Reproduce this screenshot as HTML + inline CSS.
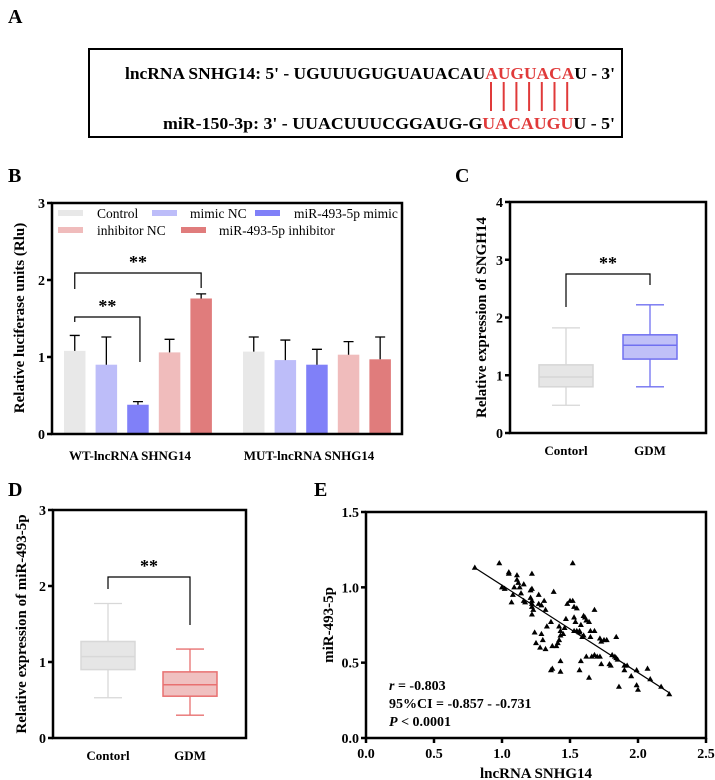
<!DOCTYPE html>
<html><head><meta charset="utf-8"><style>
html,body{margin:0;padding:0;background:#fff}
svg{display:block;font-family:"Liberation Serif",serif;font-weight:bold}
.ax{stroke:#000;stroke-width:2.5;fill:none}
.tk{font-size:14px}
</style></head><body>
<svg id="fig" width="715" height="780" viewBox="0 0 715 780">
<g>
<text x="8" y="23" font-size="20">A</text>
<rect x="89" y="49" width="533" height="88" fill="none" stroke="#000" stroke-width="2"/>
<text x="615" y="79" text-anchor="end" font-size="17" textLength="490" lengthAdjust="spacingAndGlyphs">lncRNA SNHG14: 5' - UGUUUGUGUAUACAU<tspan fill="#e03a3a">AUGUACA</tspan>U - 3'</text>
<text x="615" y="129" text-anchor="end" font-size="17" textLength="452" lengthAdjust="spacingAndGlyphs">miR-150-3p: 3' - UUACUUUCGGAUG-G<tspan fill="#e03a3a">UACAUGU</tspan>U - 5'</text>
<g id="pairs" stroke="#e03a3a" stroke-width="2"></g>
</g>
<g id="pB"></g>
<g id="pC"></g>
<g id="pD"></g>
<g id="pE"></g>
</svg>
<script>
// ---- Panel B data ----
const bGroups = ["WT-lncRNA SHNG14", "MUT-lncRNA SNHG14"];
const bSeries = ["Control", "mimic NC", "miR-493-5p mimic", "inhibitor NC", "miR-493-5p inhibitor"];
const bWT = [1.08, 0.90, 0.38, 1.06, 1.76];
const bWTerr = [0.20, 0.36, 0.04, 0.17, 0.06];
const bMUT = [1.07, 0.96, 0.90, 1.03, 0.97];
const bMUTerr = [0.19, 0.26, 0.20, 0.17, 0.29];
const bTicks = [0, 1, 2, 3];
// ---- Panel C data (box: min, q1, median, q3, max) ----
const cGroups = ["Contorl", "GDM"];
const cBoxes = [[0.48, 0.80, 0.97, 1.18, 1.82], [0.80, 1.28, 1.52, 1.70, 2.22]];
const cTicks = [0, 1, 2, 3, 4];
// ---- Panel D data ----
const dGroups = ["Contorl", "GDM"];
const dBoxes = [[0.53, 0.90, 1.07, 1.27, 1.77], [0.30, 0.55, 0.70, 0.87, 1.17]];
const dTicks = [0, 1, 2, 3];
// ---- Panel E data ----
const eX = [0.80,0.98,1.52,1.05,1.05,1.22,1.00,1.02,1.11,1.11,1.12,1.13,1.16,1.09,1.08,1.07,1.14,1.21,1.22,1.21,1.16,1.17,1.22,1.22,1.22,1.23,1.22,1.27,1.27,1.29,1.31,1.32,1.38,1.24,1.29,1.25,1.28,1.30,1.32,1.33,1.36,1.37,1.40,1.41,1.42,1.43,1.43,1.43,1.37,1.36,1.43,1.48,1.50,1.52,1.53,1.55,1.47,1.53,1.54,1.55,1.57,1.58,1.60,1.61,1.62,1.59,1.60,1.64,1.65,1.65,1.68,1.68,1.62,1.66,1.58,1.57,1.64,1.68,1.70,1.72,1.73,1.72,1.73,1.75,1.77,1.84,1.81,1.83,1.84,1.85,1.79,1.80,1.86,1.90,1.92,1.90,1.95,1.99,1.99,2.00,2.07,2.09,2.17,2.23,1.57,1.53,1.46,1.45,1.42];
const eY = [1.13,1.16,1.16,1.10,1.09,1.09,1.00,0.99,1.08,1.05,1.03,1.00,1.02,1.00,0.95,0.90,0.96,0.98,0.99,0.93,0.91,0.90,0.91,0.89,0.87,0.85,0.82,0.95,0.89,0.88,0.91,0.85,0.97,0.70,0.69,0.63,0.60,0.65,0.59,0.74,0.77,0.61,0.61,0.63,0.65,0.71,0.68,0.51,0.46,0.45,0.44,0.89,0.91,0.91,0.87,0.86,0.79,0.80,0.77,0.71,0.70,0.75,0.81,0.80,0.78,0.67,0.68,0.77,0.71,0.67,0.85,0.71,0.54,0.54,0.51,0.45,0.40,0.55,0.54,0.54,0.49,0.66,0.64,0.65,0.65,0.67,0.55,0.54,0.53,0.52,0.49,0.48,0.34,0.48,0.48,0.45,0.41,0.45,0.35,0.32,0.46,0.39,0.34,0.29,0.71,0.71,0.73,0.69,0.74];
const eFit = [[0.80, 1.13], [2.23, 0.30]];
const eXTicks = [0, 0.5, 1.0, 1.5, 2.0, 2.5];
const eYTicks = [0, 0.5, 1.0, 1.5];

const NS = "http://www.w3.org/2000/svg";
function mk(parent, tag, attrs, text) {
  const e = document.createElementNS(NS, tag);
  for (const k in attrs) e.setAttribute(k, attrs[k]);
  if (text !== undefined) e.textContent = text;
  parent.appendChild(e);
  return e;
}

const pairs = document.getElementById('pairs');
for (let i = 0; i < 7; i++) {
  const l = mk(pairs, 'line', {x1: 491 + i * 12.7, x2: 491 + i * 12.7, y1: 82, y2: 111});
  
  
}

function yAxis(g, x, yFn, ticks, fmt, name) {
  ticks.forEach(t => {
    const y = yFn(t);
    const tl = mk(g, 'line', {x1: x - 5, x2: x, y1: y, y2: y, stroke: '#000', 'stroke-width': 2.5});
    
    
    const tx = mk(g, 'text', {x: x - 7, y: y + 5, 'text-anchor': 'end', class: 'tk'}, fmt(t));
    
    
  });
}
function bracket(g, x1, y1, x2, y2, top, name) {
  const p = mk(g, 'path', {d: `M${x1},${y1}V${top}H${x2}V${y2}`, fill: 'none', stroke: '#000', 'stroke-width': 1.2});
  
  
  const s = mk(g, 'text', {x: (x1 + x2) / 2, y: top - 5, 'text-anchor': 'middle', 'font-size': 18}, '**');
  
  
}

// ---- Panel B ----
(function () {
  const g = document.getElementById('pB');
  const L = 52, R = 402, T = 203, B = 434;
  const y = v => B - v * (B - T) / 3;
  const colors = ['#e8e8e8', '#bdbdf9', '#8080f8', '#f0bcbc', '#e07c7c'];
  let t = mk(g, 'text', {x: 8, y: 182, 'font-size': 20}, 'B');
   
  const groupStart = [64, 243];
  [bWT, bMUT].forEach((vals, gi) => {
    const errs = gi === 0 ? bWTerr : bMUTerr;
    vals.forEach((v, i) => {
      const x = groupStart[gi] + i * 31.6, w = 21.5;
      const r = mk(g, 'rect', {x: x, y: y(v), width: w, height: B - y(v), fill: colors[i]});
      
      
      const cx = x + w / 2, ye = y(v + errs[i]);
      const e = mk(g, 'path', {d: `M${cx},${y(v)}V${ye}M${cx - 5},${ye}H${cx + 5}`, stroke: '#000', 'stroke-width': 1.3, fill: 'none'});
      
      
    });
    const gl = mk(g, 'text', {x: groupStart[gi] + 66, y: 460, 'text-anchor': 'middle', 'font-size': 13}, bGroups[gi]);
    
    
  });
  const fr = mk(g, 'path', {d: `M${L},${T}H${R}V${B}H${L}Z`, class: 'ax', 'stroke-width': 3});
   
  yAxis(g, L, y, bTicks, v => String(v), 'y-axis');
  const yl = mk(g, 'text', {x: 0, y: 0, transform: 'translate(24,318) rotate(-90)', 'text-anchor': 'middle', 'font-size': 15}, 'Relative luciferase units (Rlu)');
   
  const leg = [[58, 213, 97], [152, 213, 190], [255, 213, 294], [58, 230, 97], [181, 230, 219]];
  leg.forEach((p, i) => {
    const s = mk(g, 'rect', {x: p[0], y: p[1] - 3, width: 25, height: 6, fill: colors[i]});
     
    const tx = mk(g, 'text', {x: p[2], y: p[1] + 5, 'font-size': 13.5, 'font-weight': 'normal'}, bSeries[i]);
     
  });
  const c0 = groupStart[0] + 10.75;
  bracket(g, c0, 289, c0 + 4 * 31.6, 288, 273, 'significance-bracket-inhibitor');
  bracket(g, c0, 322, c0 + 2 * 31.6 + 2, 362, 317, 'significance-bracket-mimic');
})();

function boxPanel(gid, label, lx, ly, L, R, T, B, maxV, ticks, boxes, groups, centers, styles, yTitle, ytx, br) {
  const g = document.getElementById(gid);
  const y = v => B - v * (B - T) / maxV;
  let t = mk(g, 'text', {x: lx, y: ly, 'font-size': 20}, label);
   
  boxes.forEach((b, i) => {
    const cx = centers[i], hw = 27, st = styles[i];
    const w = mk(g, 'path', {d: `M${cx},${y(b[0])}V${y(b[1])}M${cx},${y(b[3])}V${y(b[4])}M${cx - 14},${y(b[0])}H${cx + 14}M${cx - 14},${y(b[4])}H${cx + 14}`, stroke: st[1], 'stroke-width': 1.3, fill: 'none'});
    
    
    const r = mk(g, 'rect', {x: cx - hw, y: y(b[3]), width: 2 * hw, height: y(b[1]) - y(b[3]), fill: st[0], stroke: st[1], 'stroke-width': 1.5});
    
    
    const m = mk(g, 'line', {x1: cx - hw, x2: cx + hw, y1: y(b[2]), y2: y(b[2]), stroke: st[1], 'stroke-width': 1.5});
    
    
    const xl = mk(g, 'text', {x: cx, y: B + 22, 'text-anchor': 'middle', 'font-size': 13}, groups[i]);
    
    
  });
  const fr = mk(g, 'path', {d: `M${L},${T}H${R}V${B}H${L}Z`, class: 'ax', 'stroke-width': 3});
   
  yAxis(g, L, y, ticks, v => String(v), 'y-axis');
  const yl = mk(g, 'text', {x: 0, y: 0, transform: `translate(${ytx},${(T + B) / 2}) rotate(-90)`, 'text-anchor': 'middle', 'font-size': 15}, yTitle);
   
  bracket(g, centers[0], br[0], centers[1], br[1], br[2], 'significance-bracket');
}
boxPanel('pC', 'C', 455, 182, 510, 706, 202, 433, 4, cTicks, cBoxes, cGroups, [566, 650],
  [['#e6e6e6', '#d6d6d6'], ['#c0c0f8', '#7070f0']], 'Relative expression of SNGH14', 486, [307, 285, 274]);
boxPanel('pD', 'D', 8, 496, 53, 246, 510, 738, 3, dTicks, dBoxes, dGroups, [108, 190],
  [['#e6e6e6', '#d8d8d8'], ['#f0c0c0', '#e87070']], 'Relative expression of miR-493-5p', 26, [589, 625, 577]);

// ---- Panel E ----
(function () {
  const g = document.getElementById('pE');
  const L = 366, R = 706, T = 512, B = 738;
  const x = v => L + v * (R - L) / 2.5;
  const y = v => B - v * (B - T) / 1.5;
  let t = mk(g, 'text', {x: 314, y: 496, 'font-size': 20}, 'E');
   
  const fr = mk(g, 'path', {d: `M${L},${T}H${R}V${B}H${L}Z`, class: 'ax', 'stroke-width': 2.5});
   
  yAxis(g, L, y, eYTicks, v => v.toFixed(1), 'y-axis');
  eXTicks.forEach(v => {
    const tl = mk(g, 'line', {x1: x(v), x2: x(v), y1: B, y2: B + 5, stroke: '#000', 'stroke-width': 2.5});
     
    const tx = mk(g, 'text', {x: x(v), y: B + 20, 'text-anchor': 'middle', class: 'tk'}, v.toFixed(1));
     
  });
  const fl = mk(g, 'line', {x1: x(eFit[0][0]), y1: y(eFit[0][1]), x2: x(eFit[1][0]), y2: y(eFit[1][1]), stroke: '#000', 'stroke-width': 1.2});
   
  eX.forEach((v, i) => {
    const px = x(v), py = y(eY[i]);
    const p = mk(g, 'path', {d: `M${px},${py - 3.2}L${px + 3},${py + 2}L${px - 3},${py + 2}Z`, fill: '#000'});
    
    
  });
  const xl = mk(g, 'text', {x: 536, y: 778, 'text-anchor': 'middle', 'font-size': 15}, 'lncRNA SNHG14');
   
  const yl = mk(g, 'text', {x: 0, y: 0, transform: 'translate(333,625) rotate(-90)', 'text-anchor': 'middle', 'font-size': 15}, 'miR-493-5p');
   
  const a1 = mk(g, 'text', {x: 389, y: 690, 'font-size': 14});
  a1.innerHTML = '<tspan font-style="italic">r</tspan> = -0.803';
   
  const a2 = mk(g, 'text', {x: 389, y: 708, 'font-size': 14}, '95%CI = -0.857 - -0.731');
   
  const a3 = mk(g, 'text', {x: 389, y: 726, 'font-size': 14});
  a3.innerHTML = '<tspan font-style="italic">P</tspan> &lt; 0.0001';
   
})();
</script>
</body></html>
